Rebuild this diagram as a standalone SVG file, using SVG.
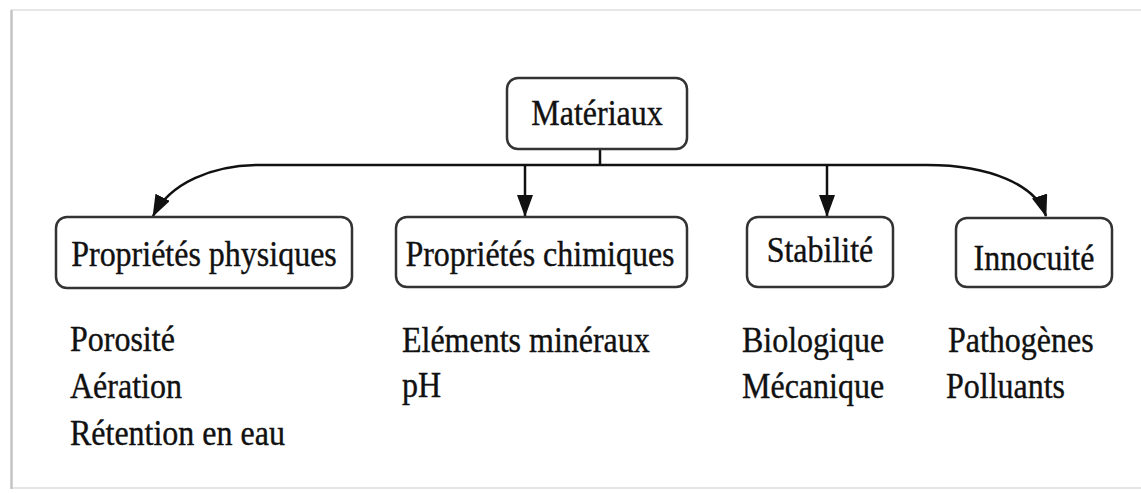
<svg xmlns="http://www.w3.org/2000/svg" width="1141" height="493" viewBox="0 0 1141 493">
<defs>
<style>
.box{fill:#fff;stroke:#333;stroke-width:2.5}
.lbl{font-family:"Liberation Serif","Times New Roman",serif;font-size:32px;fill:#111;stroke:#111;stroke-width:0.35}
.mid{text-anchor:middle}
.con{fill:none;stroke:#111;stroke-width:2.5}
</style>
<marker id="arr" markerUnits="userSpaceOnUse" viewBox="0 0 22 16" refX="21" refY="8" markerWidth="22" markerHeight="16" orient="auto">
<path d="M0,0 L22,8 L0,16 z" fill="#111"/>
</marker>
</defs>
<rect width="1141" height="493" fill="#fff"/>
<g id="frame">
<line x1="11" y1="10" x2="1141" y2="10" stroke="#e6e6e6" stroke-width="2"/>
<line x1="11" y1="488" x2="1141" y2="488" stroke="#e6e6e6" stroke-width="2"/>
<line x1="11.5" y1="10" x2="11.5" y2="489" stroke="#c4c4c4" stroke-width="2.5"/>
</g>
<g id="connectors">
<path class="con" d="M600,149 V165"/>
<path class="con" d="M600,165 H260 C212,165 170,183 153,216" marker-end="url(#arr)"/>
<path class="con" d="M600,165 H927 C990,165 1036,185 1046,216" marker-end="url(#arr)"/>
<path class="con" d="M525,165 V216" marker-end="url(#arr)"/>
<path class="con" d="M827,165 V216" marker-end="url(#arr)"/>
</g>
<g id="materiaux">
<rect class="box" x="507" y="78" width="180" height="71" rx="11"/>
<text class="lbl mid" transform="matrix(1 0 0 1.13 597 125)">Matériaux</text>
</g>
<g id="physiques">
<rect class="box" x="56" y="217" width="296" height="71" rx="11"/>
<text class="lbl mid" transform="matrix(1 0 0 1.13 204 266)">Propriétés physiques</text>
</g>
<g id="chimiques">
<rect class="box" x="396" y="217" width="291" height="70" rx="11"/>
<text class="lbl mid" transform="matrix(1 0 0 1.13 540 266)">Propriétés chimiques</text>
</g>
<g id="stabilite">
<rect class="box" x="747" y="217" width="146" height="70" rx="11"/>
<text class="lbl mid" transform="matrix(1 0 0 1.13 820 262)">Stabilité</text>
</g>
<g id="innocuite">
<rect class="box" x="956" y="218" width="156" height="69" rx="11"/>
<text class="lbl mid" transform="matrix(1 0 0 1.13 1034 270)">Innocuité</text>
</g>
<g id="list-physiques">
<text class="lbl" transform="matrix(1 0 0 1.13 70 351)">Porosité</text>
<text class="lbl" transform="matrix(1 0 0 1.13 70 398)">Aération</text>
<text class="lbl" transform="matrix(1 0 0 1.13 70 445)">Rétention en eau</text>
</g>
<g id="list-chimiques">
<text class="lbl" transform="matrix(1 0 0 1.13 402 352)">Eléments minéraux</text>
<text class="lbl" transform="matrix(1 0 0 1.13 402 397)">pH</text>
</g>
<g id="list-stabilite">
<text class="lbl" transform="matrix(1 0 0 1.13 742 352)">Biologique</text>
<text class="lbl" transform="matrix(1 0 0 1.13 742 398)">Mécanique</text>
</g>
<g id="list-innocuite">
<text class="lbl" transform="matrix(1 0 0 1.13 948 352)">Pathogènes</text>
<text class="lbl" transform="matrix(1 0 0 1.13 946 398)">Polluants</text>
</g>
</svg>
